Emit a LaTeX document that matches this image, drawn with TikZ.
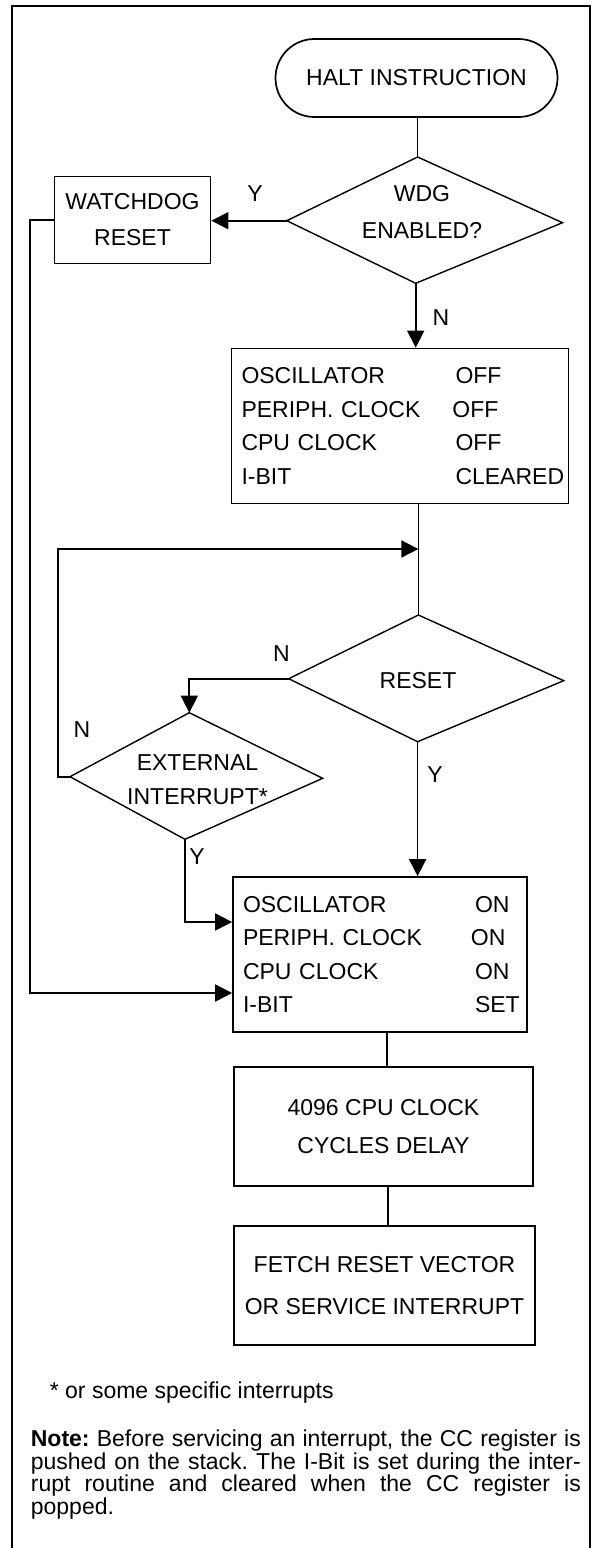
\documentclass[tikz,border=0pt]{standalone}
\usepackage{fontspec}
\setmainfont{Liberation Sans}
\usetikzlibrary{arrows.meta}
\newcommand{\flowfont}[1][30]{\fontsize{23}{#1}\selectfont}

\begin{document}
\begin{tikzpicture}[x=1pt,y=-1pt,line width=1.7pt,
  box/.style={draw,rectangle,inner sep=0pt,font=\flowfont,align=center},
  dtext/.style={inner sep=0pt,font={\flowfont[37]},align=center},
  flow/.style={-{Triangle[length=17pt,width=17pt]}},
  yn/.style={font=\flowfont,inner sep=0pt}]
  \useasboundingbox (0,0) rectangle (595,1548);
  \draw[line width=2pt] (11.5,1560) -- (11.5,6) -- (590,6) -- (590,1560);   % frame, open at the bottom

  % boxes
  \node[box,rounded corners=38.9pt,minimum width=282pt,minimum height=78pt] (halt) at (416.5,78) {HALT INSTRUCTION};
  \node[box,minimum width=156pt,minimum height=87pt,font={\flowfont[36]}] (wdgrst) at (132.5,220) {WATCHDOG\\RESET};
  \node[box,minimum width=337pt,minimum height=155pt,text width=317pt,align=left,font={\flowfont[33.5]}] (offbox) at (400,426)
    {\makebox[214pt][l]{OSCILLATOR}OFF\\ \makebox[211pt][l]{PERIPH. CLOCK}OFF\\
     \makebox[214pt][l]{CPU CLOCK}OFF\\ \makebox[214pt][l]{I-BIT}CLEARED};
  \node[box,minimum width=294pt,minimum height=155pt,text width=274pt,align=left,font={\flowfont[33.5]}] (onbox) at (380,954.5)
    {\makebox[232pt][l]{OSCILLATOR}ON\\ \makebox[228pt][l]{PERIPH. CLOCK}ON\\
     \makebox[232pt][l]{CPU CLOCK}ON\\ \makebox[232pt][l]{I-BIT}SET};
  \node[box,minimum width=299pt,minimum height=119pt,font={\flowfont[38]}] (delay) at (383.5,1126.5) {4096 CPU CLOCK\\CYCLES DELAY};
  \node[box,minimum width=301pt,minimum height=119pt,font={\flowfont[42]}] (fetch) at (384.5,1285.5) {FETCH RESET VECTOR\\OR SERVICE INTERRUPT};

  % decisions (drawn by their corners, slightly skewed as in the original)
  \foreach \dname/\pn/\pe/\ps/\pw in {wdg/{417.6,157}/{562.5,222.7}/{415.7,283.3}/{286.8,220.7},
                                      reset/{418.4,615}/{563.7,680.7}/{417.6,741.7}/{288.7,678.7},
                                      ext/{189.3,712.7}/{322.7,778.3}/{185,839.3}/{70,776.7}} {
    \coordinate (\dname-n) at (\pn);
    \coordinate (\dname-e) at (\pe);
    \coordinate (\dname-s) at (\ps);
    \coordinate (\dname-w) at (\pw);
    \draw[line width=1.4pt] (\dname-n) -- (\dname-e) -- (\dname-s) -- (\dname-w) -- cycle;
  }
  \node[dtext] (wdg) at (422,211.5) {WDG\\ENABLED?};
  \node[dtext] (reset) at (418,681) {RESET};
  \node[dtext,font={\flowfont[34]}] (ext) at (197.5,780) {EXTERNAL\\INTERRUPT*};

  % branch letters
  \node[yn] (ywdg) at (255,194) {Y};
  \node[yn] (nwdg) at (441,318) {N};
  \node[yn] (nrst) at (281.5,654) {N};
  \node[yn] (next) at (82,730) {N};
  \node[yn] (yrst) at (435,775) {Y};
  \node[yn] (yext) at (197,857) {Y};

  % connectors
  \coordinate (loopjoin) at (418.4,549);
  \draw (halt.south -| wdg-n) -- (wdg-n);
  \draw[flow] (wdg-w) -- (wdg-w -| wdgrst.east);
  \draw[flow] (wdg-s) -- (wdg-s |- offbox.north);
  \draw (reset-n |- offbox.south) -- (reset-n);
  \draw[flow] (ext-w) -- ++(-12.3,0) |- (loopjoin);
  \draw[flow] (reset-w) -| (ext-n);
  \draw[flow] (reset-s) -- (reset-s |- onbox.north);
  \draw[flow] (ext-s) |- ([yshift=32.5pt]onbox.west);
  \draw[flow] (wdgrst.west) -- ++(-23.8,0) |- ([yshift=-38.5pt]onbox.west);
  \draw ([xshift=3.5pt]delay.north) -- ([xshift=3.5pt]delay.north |- onbox.south);
  \draw ([xshift=3.5pt]fetch.north) -- ([xshift=3.5pt]fetch.north |- delay.south);

  % footnote and note
  \node[anchor=base west,inner sep=0pt,font=\flowfont] (foot) at (49,1398) {* or some specific interrupts};
  \node[anchor=north west,inner sep=0pt,text width=550pt,align=justify,font=\fontsize{23}{22.7}\selectfont] (note) at (30,1429)
    {\frenchspacing\textbf{Note:} Before servicing an interrupt, the CC register is\linebreak
     pushed on the stack. The I-Bit is set during the inter-\linebreak
     rupt routine and cleared when the CC register is\linebreak
     popped.};
\end{tikzpicture}
\end{document}
